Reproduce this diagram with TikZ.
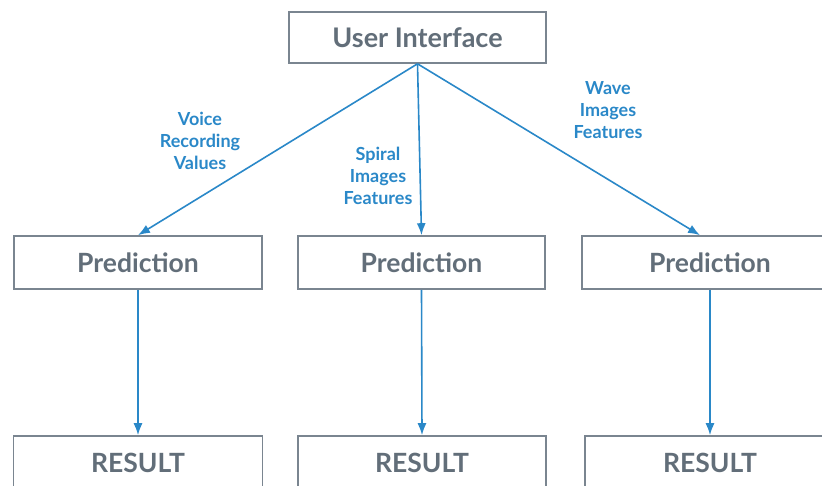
\documentclass[tikz,border=0pt]{standalone}
\usepackage{fontspec}
\usetikzlibrary{arrows.meta}
\setmainfont{Lato}
\definecolor{boxgray}{HTML}{7A8590}
\definecolor{textgray}{HTML}{626E79}
\definecolor{linkblue}{HTML}{2A88C8}
\begin{document}
\begin{tikzpicture}[x=1pt,y=-1pt,>={Latex[length=12pt,width=9pt]},
  box/.style={draw=boxgray,line width=1.6pt,fill=white,minimum height=53pt,
    text=textgray,font=\bfseries\fontsize{26.5}{30}\selectfont},
  lbl/.style={text=linkblue,align=center,font=\bfseries\fontsize{18}{22}\selectfont},
  link/.style={->,draw=linkblue,line width=1.6pt}]
\useasboundingbox (0,0) rectangle (822,485);
\node[box,minimum width=257pt,minimum height=51pt,font=\bfseries\fontsize{27}{28}\selectfont](ui) at (417.5,37.5){User Interface};
\node[box,minimum width=248pt](p1) at (138,262.5){Prediction};
\node[box,minimum width=247pt](p2) at (421.5,262.5){Prediction};
\node[box,minimum width=256pt](p3) at (710,262.5){Prediction};
\node[box,minimum width=249pt](r1) at (138,462.5){RESULT};
\node[box,minimum width=248pt](r2) at (422,462.5){RESULT};
\node[box,minimum width=250pt](r3) at (710,462.5){RESULT};
\draw[link](ui.south)--(p1.north);
\draw[link](ui.south)--(p2.north);
\draw[link](ui.south)--([xshift=-10pt]p3.north);
\draw[link](p1.south)--(r1.north);
\draw[link](p2.south)--(r2.north);
\draw[link](p3.south)--(r3.north);
\node[lbl](l1) at (200,141){Voice\\Recording\\Values};
\node[lbl](l2) at (378,176){Spiral\\Images\\Features};
\node[lbl](l3) at (608,110){Wave\\Images\\Features};

\end{tikzpicture}
\end{document}
